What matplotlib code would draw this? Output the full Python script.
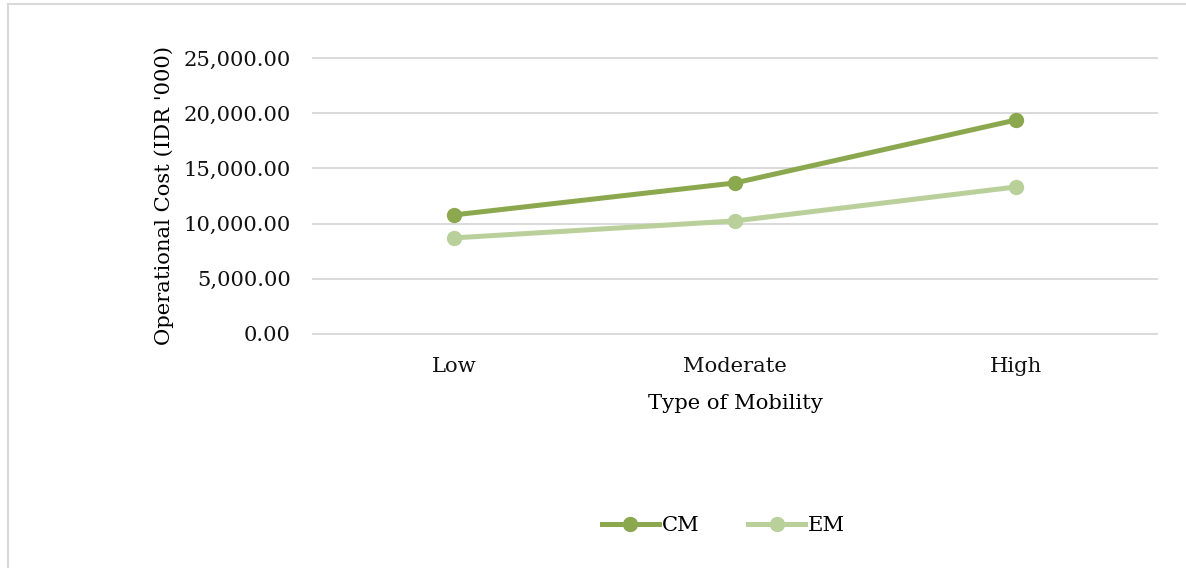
import matplotlib.pyplot as plt
from matplotlib.lines import Line2D
from matplotlib.ticker import FuncFormatter

# Operational cost per mobility type (IDR '000)
mobility = ['Low', 'Moderate', 'High']
cm_cost = [10780, 13680, 19390]
em_cost = [8700, 10240, 13320]

cm_color = '#8BA84E'
em_color = '#B9D09A'

plt.rcParams['font.family'] = ['DejaVu Serif']

fig = plt.figure(figsize=(11.86, 5.68), dpi=100)
axes = fig.add_axes([0.264, 0.412, 0.7116, 0.486])

x = range(len(mobility))
axes.plot(x, cm_cost, color=cm_color, linewidth=3.6, marker='o', markersize=10,
          solid_capstyle='round', label='CM', zorder=3)
axes.plot(x, em_cost, color=em_color, linewidth=3.6, marker='o', markersize=10,
          solid_capstyle='round', label='EM', zorder=3)

axes.set_xlim(-0.5, 2.5)
axes.set_ylim(0, 25000)
axes.set_yticks(range(0, 25001, 5000))
axes.yaxis.set_major_formatter(FuncFormatter(lambda v, _: f'{v:,.2f}'))
axes.set_xticks(list(x))
axes.set_xticklabels(mobility)
axes.tick_params(axis='y', length=0, pad=16, labelsize=15.2, colors='#111111')
axes.tick_params(axis='x', length=0, pad=16.5, labelsize=15.2, colors='#111111')
axes.grid(axis='y', color='#D9D9D9', linewidth=1.4)
for line in axes.get_ygridlines():
    line.set_clip_on(False)
axes.set_axisbelow(True)
for spine in axes.spines.values():
    spine.set_visible(False)

axes.set_xlabel('Type of Mobility', fontsize=15.2, labelpad=13)
axes.set_ylabel("Operational Cost (IDR '000)", fontsize=15.2, labelpad=7)

handles = [Line2D([], [], color=cm_color, linewidth=3.6, marker='o', markersize=10),
           Line2D([], [], color=em_color, linewidth=3.6, marker='o', markersize=10)]
fig.legend(handles, ['CM', 'EM'], loc='center', bbox_to_anchor=(0.61, 0.075),
           ncol=2, frameon=False, fontsize=15.2, handlelength=2.7,
           handletextpad=0.15, columnspacing=2.3)

# Chart frame, visible on the left and top edges
fig.add_artist(Line2D([0.0068, 0.0068], [0, 0.993], color='#D9D9D9', linewidth=1.5))
fig.add_artist(Line2D([0.0068, 1.0], [0.993, 0.993], color='#D9D9D9', linewidth=1.5))

fig.savefig('out.png', dpi=100)
plt.close(fig)
